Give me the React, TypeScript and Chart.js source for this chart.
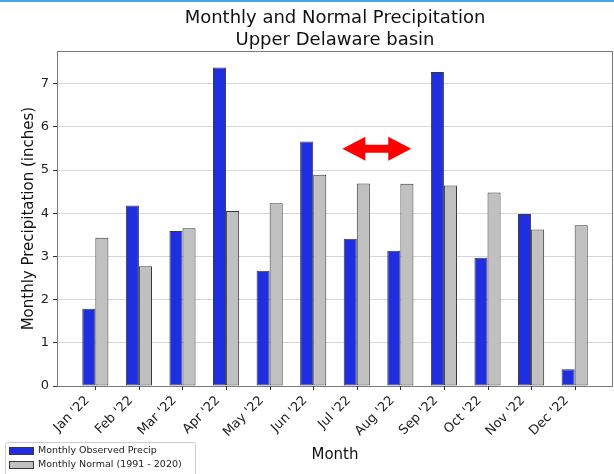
import React, { useEffect, useRef } from "react";
import { Chart, registerables } from "chart.js";

Chart.register(...registerables);

// ---- data ----
const MONTHS = ["Jan '22", "Feb '22", "Mar '22", "Apr '22", "May '22", "Jun '22", "Jul '22", "Aug '22", "Sep '22", "Oct '22", "Nov '22", "Dec '22"];
const OBSERVED = [1.79, 4.18, 3.59, 7.37, 2.67, 5.66, 3.41, 3.13, 7.27, 2.97, 3.98, 0.39];
const NORMAL = [3.43, 2.77, 3.65, 4.05, 4.23, 4.89, 4.69, 4.68, 4.64, 4.48, 3.62, 3.72];
const Y_TICKS = [0, 1, 2, 3, 4, 5, 6, 7];
const X_LIMITS = [-0.88, 11.88];
const Y_LIMITS = [0, 7.75];
const TITLE = ["Monthly and Normal Precipitation", "Upper Delaware basin"];
const SERIES_LABELS = ["Monthly Observed Precip", "Monthly Normal (1991 - 2020)"];
const X_TITLE = "Month";
const Y_TITLE = "Monthly Precipitation (inches)";
// red double arrow annotation (data units)
const ARROW_FROM = 5.67;
const ARROW_TO = 7.25;
const ARROW_AT = 5.49;

// ---- styles ----
const FONT = "'DejaVu Sans', 'Liberation Sans', sans-serif";
const BLUE = "#1f2fe0";
const GRAY = "#c0c0c0";
const EDGE = "#3a3a3a";
const FRAME = "#7a7a7a";
const LABEL_DX = -8; // rotated label anchoring like matplotlib's ha="right"
const LABEL_DY = -3;

const framePlugin = {
  id: "frame",
  afterDraw(chart: any) {
    const { ctx, chartArea: a } = chart;
    ctx.save();
    ctx.strokeStyle = FRAME;
    ctx.lineWidth = 1;
    ctx.strokeRect(Math.round(a.left) + 0.5, Math.round(a.top) + 0.5, Math.round(a.right - a.left) - 1, Math.round(a.bottom - a.top));
    ctx.restore();
  },
};

const xTickPlugin = {
  id: "xTickMarks",
  beforeDraw(chart: any) {
    const items = chart.scales.x.getLabelItems();
    items.forEach((it: any) => {
      if (it._shifted) return;
      it._shifted = true;
      const t = it.options.translation;
      it.options.translation = [t[0] + LABEL_DX, t[1] + LABEL_DY];
    });
  },
  afterDraw(chart: any) {
    const { ctx, chartArea: a } = chart;
    const xs = chart.scales.x;
    ctx.save();
    ctx.strokeStyle = "#333";
    ctx.lineWidth = 1;
    MONTHS.forEach((_, i) => {
      const px = Math.round(xs.getPixelForValue(i)) + 0.5;
      ctx.beginPath();
      ctx.moveTo(px, a.bottom);
      ctx.lineTo(px, a.bottom + 4);
      ctx.stroke();
    });
    ctx.restore();
  },
};

const arrowPlugin = {
  id: "arrow",
  afterDatasetsDraw(chart: any) {
    const { ctx } = chart;
    const xa = chart.scales.x.getPixelForValue(ARROW_FROM);
    const xb = chart.scales.x.getPixelForValue(ARROW_TO);
    const yc = chart.scales.y.getPixelForValue(ARROW_AT);
    const hl = 23, hh = 12, hs = 4;
    ctx.save();
    ctx.fillStyle = "#ff0000";
    ctx.beginPath();
    ctx.moveTo(xa, yc);
    ctx.lineTo(xa + hl, yc - hh);
    ctx.lineTo(xa + hl, yc - hs);
    ctx.lineTo(xb - hl, yc - hs);
    ctx.lineTo(xb - hl, yc - hh);
    ctx.lineTo(xb, yc);
    ctx.lineTo(xb - hl, yc + hh);
    ctx.lineTo(xb - hl, yc + hs);
    ctx.lineTo(xa + hl, yc + hs);
    ctx.lineTo(xa + hl, yc + hh);
    ctx.closePath();
    ctx.fill();
    ctx.restore();
  },
};

const legendPlugin = {
  id: "boxLegend",
  afterDraw(chart: any) {
    const { ctx } = chart;
    ctx.save();
    ctx.fillStyle = "#ffffff";
    ctx.strokeStyle = "#cccccc";
    ctx.lineWidth = 1;
    ctx.beginPath();
    (ctx as any).roundRect(5.5, 442.5, 190, 40, 2);
    ctx.fill();
    ctx.stroke();
    chart.data.datasets.forEach((ds: any, i: number) => {
      const y = 450.5 + i * 14;
      ctx.fillStyle = ds.backgroundColor;
      ctx.fillRect(9, y - 3.5, 24, 7);
      ctx.strokeStyle = ds.borderColor;
      ctx.strokeRect(9.5, y - 3, 24, 7);
      ctx.fillStyle = "#222";
      ctx.font = `9.5px ${FONT}`;
      ctx.textBaseline = "middle";
      ctx.textAlign = "left";
      ctx.fillText(ds.label, 38, y);
    });
    ctx.restore();
  },
};

export default function App() {
  const ref = useRef<HTMLCanvasElement>(null);
  useEffect(() => {
    const canvas = ref.current;
    if (!canvas) return;
    const chart = new Chart(canvas, {
      type: "bar",
      data: {
        datasets: [
          {
            label: SERIES_LABELS[0],
            data: OBSERVED.map((y, i) => ({ x: i, y })),
            backgroundColor: BLUE,
            borderColor: EDGE,
            borderWidth: 1,
            borderSkipped: false,
            categoryPercentage: 0.6,
            barPercentage: 1,
          },
          {
            label: SERIES_LABELS[1],
            data: NORMAL.map((y, i) => ({ x: i, y })),
            backgroundColor: GRAY,
            borderColor: EDGE,
            borderWidth: 1,
            borderSkipped: false,
            categoryPercentage: 0.6,
            barPercentage: 1,
          },
        ] as any,
      },
      plugins: [arrowPlugin, framePlugin, xTickPlugin, legendPlugin],
      options: {
        animation: false,
        responsive: true,
        maintainAspectRatio: false,
        layout: { padding: { left: 0, right: 1, top: 0, bottom: 0 } },
        plugins: {
          legend: { display: false },
          tooltip: { enabled: false },
          title: {
            display: true,
            text: TITLE,
            fullSize: false,
            color: "#111",
            font: { family: FONT, size: 18, weight: "normal", lineHeight: 1.2 },
            padding: { top: 8, bottom: 0 },
          },
        },
        scales: {
          x: {
            type: "linear",
            offset: false,
            min: X_LIMITS[0],
            max: X_LIMITS[1],
            afterBuildTicks: (s: any) => {
              s.ticks = MONTHS.map((_, i) => ({ value: i }));
            },
            afterFit: (s: any) => {
              s.height = 88;
            },
            ticks: {
              autoSkip: false,
              minRotation: 45,
              maxRotation: 45,
              padding: 2,
              color: "#222",
              font: { family: FONT, size: 13 },
              callback: (v: any) => MONTHS[Math.round(v)] ?? "",
            },
            grid: { display: false },
            border: { display: false },
            title: {
              display: true,
              text: X_TITLE,
              color: "#111",
              font: { family: FONT, size: 15 },
              padding: { top: 0, bottom: 10 },
            },
          },
          y: {
            min: Y_LIMITS[0],
            max: Y_LIMITS[1],
            z: 1,
            afterBuildTicks: (s: any) => {
              s.ticks = Y_TICKS.map((v) => ({ value: v }));
            },
            afterFit: (s: any) => {
              s.width = 57;
            },
            ticks: {
              padding: 4,
              color: "#222",
              font: { family: FONT, size: 13 },
            },
            grid: {
              color: "rgba(176,176,176,0.5)",
              tickColor: "#333",
              tickLength: 4,
              lineWidth: 1,
            },
            border: { display: false },
            title: {
              display: true,
              text: Y_TITLE,
              color: "#111",
              font: { family: FONT, size: 15 },
              padding: { top: 20, bottom: 0 },
            },
          },
        },
      } as any,
    });
    return () => chart.destroy();
  }, []);

  return (
    <div style={{ position: "fixed", left: 0, top: 0, width: 614, height: 474, background: "#fff" }}>
      <canvas ref={ref} />
      <div style={{ position: "absolute", left: 0, top: 0, width: 614, height: 2, background: "#3fa9ea" }} />
    </div>
  );
}
